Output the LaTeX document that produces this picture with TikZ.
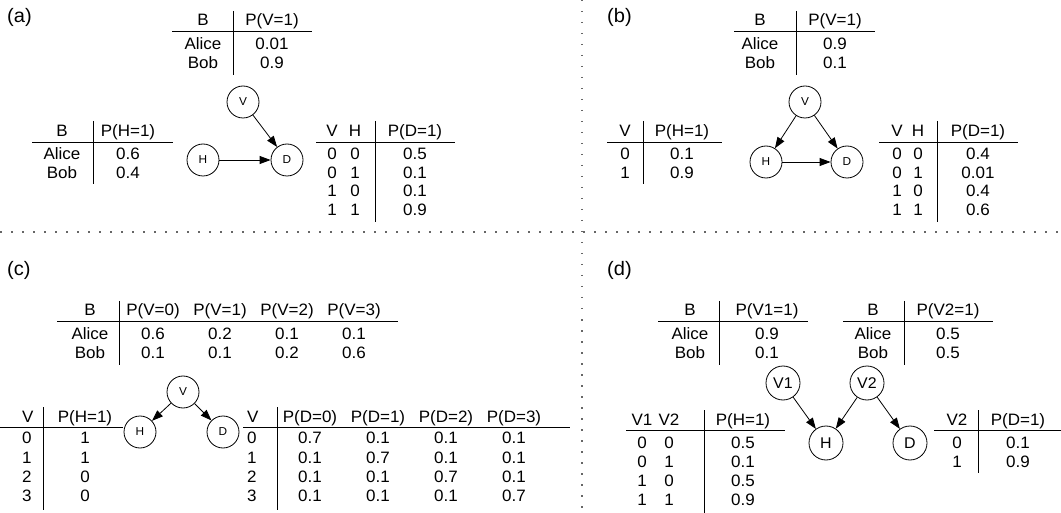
\documentclass[tikz,border=0pt]{standalone}
\usepackage{fontspec}
\setmainfont[FakeStretch=1.03]{Liberation Sans}
\usetikzlibrary{arrows.meta}

\begin{document}
\begin{tikzpicture}[x=1pt, y=-1pt,
		cell/.style={inner sep=0pt, text height=11.5pt, text depth=0pt, font=\fontsize{16.5}{18}\selectfont},
		lcell/.style={cell, anchor=west},
		panel/.style={inner sep=0pt, anchor=west, font=\fontsize{19.5}{21}\selectfont},
		var/.style={circle, draw, line width=0.8pt, minimum size=32pt, inner sep=0pt, font=\fontsize{11.5}{12}\selectfont},
		bigvar/.style={var, minimum size=34pt, font=\fontsize{15.5}{16}\selectfont},
		dep/.style={line width=0.8pt, -{Triangle[length=11pt, width=8pt]}},
		tabrule/.style={line width=0.8pt},
		divider/.style={black!60, line width=1.5pt, dash pattern=on 1.5pt off 9.5pt}]
		\useasboundingbox (0,0) rectangle (1061,513);
		
		\draw[divider] (582,0) -- (582,513);
		\draw[divider] (0,232) -- (1061,232);
		
		% (a)
		\node[panel] (a-tag) at (7,17) {(a)};
		
		\node[cell] (aV-b) at (203,20) {B};
		\node[cell] (aV-p) at (272,20) {P(V=1)};
		\foreach \b/\p [count=\i] in {Alice/0.01, Bob/0.9} {
			\node[cell] (aV-b\i) at (203,{24+19.5*\i}) {\b};
			\node[cell] (aV-p\i) at (272,{24+19.5*\i}) {\p};
		}
		\draw[tabrule] (172,31) -- (312,31);
		\draw[tabrule] (233,11) -- (233,75);
		
		\node[cell] (aH-b) at (62,131) {B};
		\node[cell] (aH-p) at (128,131) {P(H=1)};
		\foreach \b/\p [count=\i] in {Alice/0.6, Bob/0.4} {
			\node[cell] (aH-b\i) at (62,{135+18.7*\i}) {\b};
			\node[cell] (aH-p\i) at (128,{135+18.7*\i}) {\p};
		}
		\draw[tabrule] (32,142) -- (173,142);
		\draw[tabrule] (93,121) -- (93,184);
		
		\node[cell] (aD-v) at (332,131) {V};
		\node[cell] (aD-h) at (355,131) {H};
		\node[cell] (aD-p) at (415,131) {P(D=1)};
		\foreach \v/\h/\p [count=\i] in {0/0/0.5, 0/1/0.1, 1/0/0.1, 1/1/0.9} {
			\node[cell] (aD-v\i) at (332,{135+18.7*\i}) {\v};
			\node[cell] (aD-h\i) at (355,{135+18.7*\i}) {\h};
			\node[cell] (aD-p\i) at (415,{135+18.7*\i}) {\p};
		}
		\draw[tabrule] (316,142) -- (455,142);
		\draw[tabrule] (375,121) -- (375,222);
		
		\node[var] (a-V) at (243,102) {V};
		\node[var] (a-H) at (203,160) {H};
		\node[var] (a-D) at (287,160) {D};
		\draw[dep] (a-H) -- (a-D);
		\draw[dep] (a-V) -- (a-D);
		
		% (b)
		\node[panel] (b-tag) at (607,17) {(b)};
		
		\node[cell] (bV-b) at (760,20) {B};
		\node[cell] (bV-p) at (835,20) {P(V=1)};
		\foreach \b/\p [count=\i] in {Alice/0.9, Bob/0.1} {
			\node[cell] (bV-b\i) at (760,{24+19.5*\i}) {\b};
			\node[cell] (bV-p\i) at (835,{24+19.5*\i}) {\p};
		}
		\draw[tabrule] (734,31) -- (875,31);
		\draw[tabrule] (796,11) -- (796,75);
		
		\node[cell] (bH-v) at (625,131) {V};
		\node[cell] (bH-p) at (682,131) {P(H=1)};
		\foreach \v/\p [count=\i] in {0/0.1, 1/0.9} {
			\node[cell] (bH-v\i) at (625,{135+18.7*\i}) {\v};
			\node[cell] (bH-p\i) at (682,{135+18.7*\i}) {\p};
		}
		\draw[tabrule] (607,142) -- (722,142);
		\draw[tabrule] (643,121) -- (643,184);
		
		\node[cell] (bD-v) at (897,131) {V};
		\node[cell] (bD-h) at (918,131) {H};
		\node[cell] (bD-p) at (978,131) {P(D=1)};
		\foreach \v/\h/\p [count=\i] in {0/0/0.4, 0/1/0.01, 1/0/0.4, 1/1/0.6} {
			\node[cell] (bD-v\i) at (897,{135+18.7*\i}) {\v};
			\node[cell] (bD-h\i) at (918,{135+18.7*\i}) {\h};
			\node[cell] (bD-p\i) at (978,{135+18.7*\i}) {\p};
		}
		\draw[tabrule] (879,142) -- (1018,142);
		\draw[tabrule] (937,121) -- (937,222);
		
		\node[var] (b-V) at (805,102) {V};
		\node[var] (b-H) at (766,162) {H};
		\node[var] (b-D) at (847,162) {D};
		\draw[dep] (b-V) -- (b-H);
		\draw[dep] (b-V) -- (b-D);
		\draw[dep] (b-H) -- (b-D);
		
		% (c)
		\node[panel] (c-tag) at (7,270) {(c)};
		
		\node[cell] (cV-b) at (90,310) {B};
		\foreach \k/\x in {0/153, 1/220, 2/287, 3/354}
			\node[cell] (cV-p\k) at (\x,310) {P(V=\k)};
		\foreach \b/\p/\q/\r/\s [count=\i] in {Alice/0.6/0.2/0.1/0.1, Bob/0.1/0.1/0.2/0.6} {
			\node[cell] (cV-b\i) at (90,{314+19.5*\i}) {\b};
			\node[cell] (cV-p\i) at (153,{314+19.5*\i}) {\p};
			\node[cell] (cV-q\i) at (220,{314+19.5*\i}) {\q};
			\node[cell] (cV-r\i) at (287,{314+19.5*\i}) {\r};
			\node[cell] (cV-s\i) at (354,{314+19.5*\i}) {\s};
		}
		\draw[tabrule] (57,321) -- (398,321);
		\draw[tabrule] (119,301) -- (119,365);
		
		\node[lcell] (cH-v) at (22,417) {V};
		\node[cell] (cH-p) at (85,417) {P(H=1)};
		\foreach \v/\p [count=\i] in {0/1, 1/1, 2/0, 3/0} {
			\node[lcell] (cH-v\i) at (22,{419+19.2*\i}) {\v};
			\node[cell] (cH-p\i) at (85,{419+19.2*\i}) {\p};
		}
		\draw[tabrule] (0,427) -- (123,427);
		\draw[tabrule] (43,407) -- (43,510);
		
		\node[lcell] (cD-v) at (247,417) {V};
		\foreach \k/\x in {0/310, 1/378, 2/446, 3/514}
			\node[cell] (cD-p\k) at (\x,417) {P(D=\k)};
		\foreach \v/\p/\q/\r/\s [count=\i] in {0/0.7/0.1/0.1/0.1, 1/0.1/0.7/0.1/0.1, 2/0.1/0.1/0.7/0.1, 3/0.1/0.1/0.1/0.7} {
			\node[lcell] (cD-v\i) at (247,{419+19.2*\i}) {\v};
			\node[cell] (cD-p\i) at (310,{419+19.2*\i}) {\p};
			\node[cell] (cD-q\i) at (378,{419+19.2*\i}) {\q};
			\node[cell] (cD-r\i) at (446,{419+19.2*\i}) {\r};
			\node[cell] (cD-s\i) at (514,{419+19.2*\i}) {\s};
		}
		\draw[tabrule] (243,427) -- (570,427);
		\draw[tabrule] (277,407) -- (277,510);
		
		\node[var] (c-V) at (183,392) {V};
		\node[var] (c-H) at (140,432) {H};
		\node[var] (c-D) at (223,432) {D};
		\draw[dep] (c-V) -- (c-H);
		\draw[dep] (c-V) -- (c-D);
		
		% (d)
		\node[panel] (d-tag) at (607,270) {(d)};
		
		\node[cell] (dA-b) at (690,310) {B};
		\node[cell] (dA-p) at (767,310) {P(V1=1)};
		\foreach \b/\p [count=\i] in {Alice/0.9, Bob/0.1} {
			\node[cell] (dA-b\i) at (690,{314+19.5*\i}) {\b};
			\node[cell] (dA-p\i) at (767,{314+19.5*\i}) {\p};
		}
		\draw[tabrule] (658,321) -- (808,321);
		\draw[tabrule] (719,301) -- (719,365);
		
		\node[cell] (dB-b) at (873,310) {B};
		\node[cell] (dB-p) at (948,310) {P(V2=1)};
		\foreach \b/\p [count=\i] in {Alice/0.5, Bob/0.5} {
			\node[cell] (dB-b\i) at (873,{314+19.5*\i}) {\b};
			\node[cell] (dB-p\i) at (948,{314+19.5*\i}) {\p};
		}
		\draw[tabrule] (843,321) -- (993,321);
		\draw[tabrule] (904,301) -- (904,365);
		
		\node[cell] (dH-a) at (642,420) {V1};
		\node[cell] (dH-b) at (669,420) {V2};
		\node[cell] (dH-p) at (743,420) {P(H=1)};
		\foreach \a/\b/\p [count=\i] in {0/0/0.5, 0/1/0.1, 1/0/0.5, 1/1/0.9} {
			\node[cell] (dH-a\i) at (642,{424+19*\i}) {\a};
			\node[cell] (dH-b\i) at (669,{424+19*\i}) {\b};
			\node[cell] (dH-p\i) at (743,{424+19*\i}) {\p};
		}
		\draw[tabrule] (626,430) -- (785,430);
		\draw[tabrule] (704,410) -- (704,513);
		
		\node[cell] (dD-b) at (957,420) {V2};
		\node[cell] (dD-p) at (1018,420) {P(D=1)};
		\foreach \b/\p [count=\i] in {0/0.1, 1/0.9} {
			\node[cell] (dD-b\i) at (957,{424+19*\i}) {\b};
			\node[cell] (dD-p\i) at (1018,{424+19*\i}) {\p};
		}
		\draw[tabrule] (934,430) -- (1061,430);
		\draw[tabrule] (978,410) -- (978,473);
		
		\node[bigvar] (d-V1) at (783,383) {V1};
		\node[bigvar] (d-V2) at (867,383) {V2};
		\node[bigvar] (d-H) at (826,443) {H};
		\node[bigvar] (d-D) at (910,443) {D};
		\draw[dep] (d-V1) -- (d-H);
		\draw[dep] (d-V2) -- (d-H);
		\draw[dep] (d-V2) -- (d-D);
	\end{tikzpicture}
\end{document}
